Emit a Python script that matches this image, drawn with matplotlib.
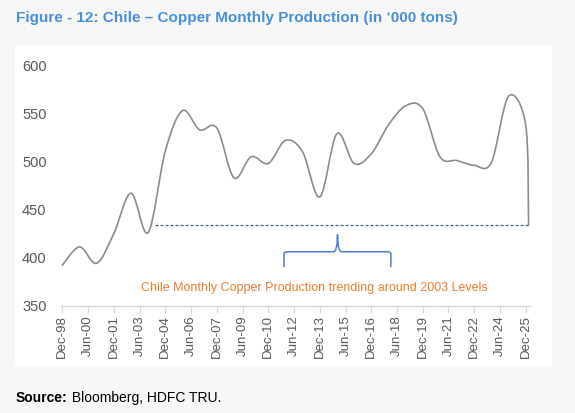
import matplotlib.pyplot as plt
import numpy as np
from matplotlib.path import Path
from matplotlib.patches import PathPatch

# ====================== DATA ======================
dates = ['Dec-98', 'Dec-99', 'Dec-00', 'Dec-01', 'Dec-02', 'Dec-03', 'Dec-04',
         'Dec-05', 'Dec-06', 'Dec-07', 'Dec-08', 'Dec-09', 'Dec-10', 'Dec-11',
         'Dec-12', 'Dec-13', 'Dec-14', 'Dec-15', 'Dec-16', 'Dec-17', 'Dec-18',
         'Dec-19', 'Dec-20', 'Dec-21', 'Dec-22', 'Dec-23', 'Dec-24', 'Dec-25',
         'Feb-26']
production = [392, 411, 394, 425, 467, 426, 511,
              553, 533, 535, 483, 505, 498, 522,
              510, 463, 529, 498, 508, 538, 558,
              555, 505, 501, 496, 499, 568, 538,
              434]

tick_labels = ['Dec-98', 'Jun-00', 'Dec-01', 'Jun-03', 'Dec-04', 'Jun-06',
               'Dec-07', 'Jun-09', 'Dec-10', 'Jun-12', 'Dec-13', 'Jun-15',
               'Dec-16', 'Jun-18', 'Dec-19', 'Jun-21', 'Dec-22', 'Jun-24',
               'Dec-25']

level_2003 = 434          # dashed reference level
level_start = 'May-04'    # where the dashed line begins

MONTHS = {'Jan': 1, 'Feb': 2, 'Mar': 3, 'Apr': 4, 'May': 5, 'Jun': 6,
          'Jul': 7, 'Aug': 8, 'Sep': 9, 'Oct': 10, 'Nov': 11, 'Dec': 12}


def month_index(lbl):
    # months since Dec-98
    m, yy = lbl.split('-')
    year = 1900 + int(yy) if int(yy) > 50 else 2000 + int(yy)
    return (year - 1998) * 12 + MONTHS[m] - 12


x = np.array([month_index(d) for d in dates], dtype=float)
y = np.array(production, dtype=float)
xt = [month_index(t) for t in tick_labels]

# ====================== PLOTTING ======================
plt.rcParams['font.family'] = ['Liberation Sans', 'DejaVu Sans']

fig = plt.figure(figsize=(5.75, 4.13), dpi=100)
fig.patch.set_facecolor('#f7f7f7')

# white chart panel behind the plot
bg = fig.add_axes([15 / 575, 1 - 366 / 413, 537 / 575, 321 / 413], zorder=-1)
bg.set_facecolor('white')
bg.set_xticks([])
bg.set_yticks([])
for s in bg.spines.values():
    s.set_visible(False)

ax = fig.add_axes([60.5 / 575, 1 - 305.5 / 413, 469.5 / 575, 240 / 413])
ax.set_facecolor('none')

# Excel-style smoothed line (Bezier through the points)
pts = np.column_stack([x, y])
verts = [pts[0]]
codes = [Path.MOVETO]
n = len(pts)
for i in range(n - 1):
    p0 = pts[i - 1] if i > 0 else pts[i]
    p1 = pts[i]
    p2 = pts[i + 1]
    p3 = pts[i + 2] if i + 2 < n else pts[i + 1]
    verts += [p1 + (p2 - p0) / 6, p2 - (p3 - p1) / 6, p2]
    codes += [Path.CURVE4] * 3
ax.add_patch(PathPatch(Path(verts, codes), fill=False, edgecolor='#8c8c8c',
                       lw=1.2, capstyle='round'))

# dashed 2003-level line
ax.plot([month_index(level_start), x[-1]], [level_2003, level_2003],
        ls=(0, (2.5, 1.5)), color='#3b6e99', lw=0.9)

# curly brace
bx0, bx1, bmid = 155, 229.7, 192.4
by, bend, btip = 406, 390, 424
r = 3.0
brace = Path([(bx0, bend), (bx0, by - 2), (bx0, by), (bx0 + r, by),
              (bmid - r, by), (bmid, by), (bmid, btip),
              (bmid, by), (bmid + r, by),
              (bx1 - r, by), (bx1, by), (bx1, by - 2), (bx1, bend)],
             [Path.MOVETO, Path.LINETO, Path.CURVE3, Path.CURVE3,
              Path.LINETO, Path.CURVE3, Path.CURVE3,
              Path.CURVE3, Path.CURVE3,
              Path.LINETO, Path.CURVE3, Path.CURVE3, Path.LINETO])
ax.add_patch(PathPatch(brace, fill=False, edgecolor='#4f7fd0', lw=1.1))

ax.text(176.5, 368,
        'Chile Monthly Copper Production trending around 2003 Levels',
        color='#ed7d31', fontsize=9, ha='center', va='center')

ax.set_xlim(-1.3, 327)
ax.set_ylim(350, 600)
ax.set_yticks(range(350, 601, 50))
ax.set_xticks(xt)
ax.set_xticklabels(tick_labels, rotation=90)
ax.tick_params(axis='y', length=0, pad=10, labelsize=10.5, labelcolor='#595959')
ax.tick_params(axis='x', length=5, width=0.8, color='#d9d9d9', pad=2,
               labelsize=9.5, labelcolor='#595959')
for s in ['top', 'right', 'left']:
    ax.spines[s].set_visible(False)
ax.spines['bottom'].set_color('#d9d9d9')
ax.spines['bottom'].set_linewidth(1.0)

fig.text(16 / 575, 1 - 18 / 413,
         'Figure - 12: Chile \u2013 Copper Monthly Production (in \u2018000 tons)',
         color='#4a90d9', fontsize=11, fontweight='bold', va='center')
src = fig.text(16 / 575, 1 - 398 / 413, 'Source:', color='black', fontsize=10,
               fontweight='bold', va='center')
ax.annotate(' Bloomberg, HDFC TRU.', xy=(1, 0.5), xycoords=src,
            va='center', ha='left', fontsize=10, color='black')

plt.savefig('out.png', dpi=100, facecolor=fig.get_facecolor())
